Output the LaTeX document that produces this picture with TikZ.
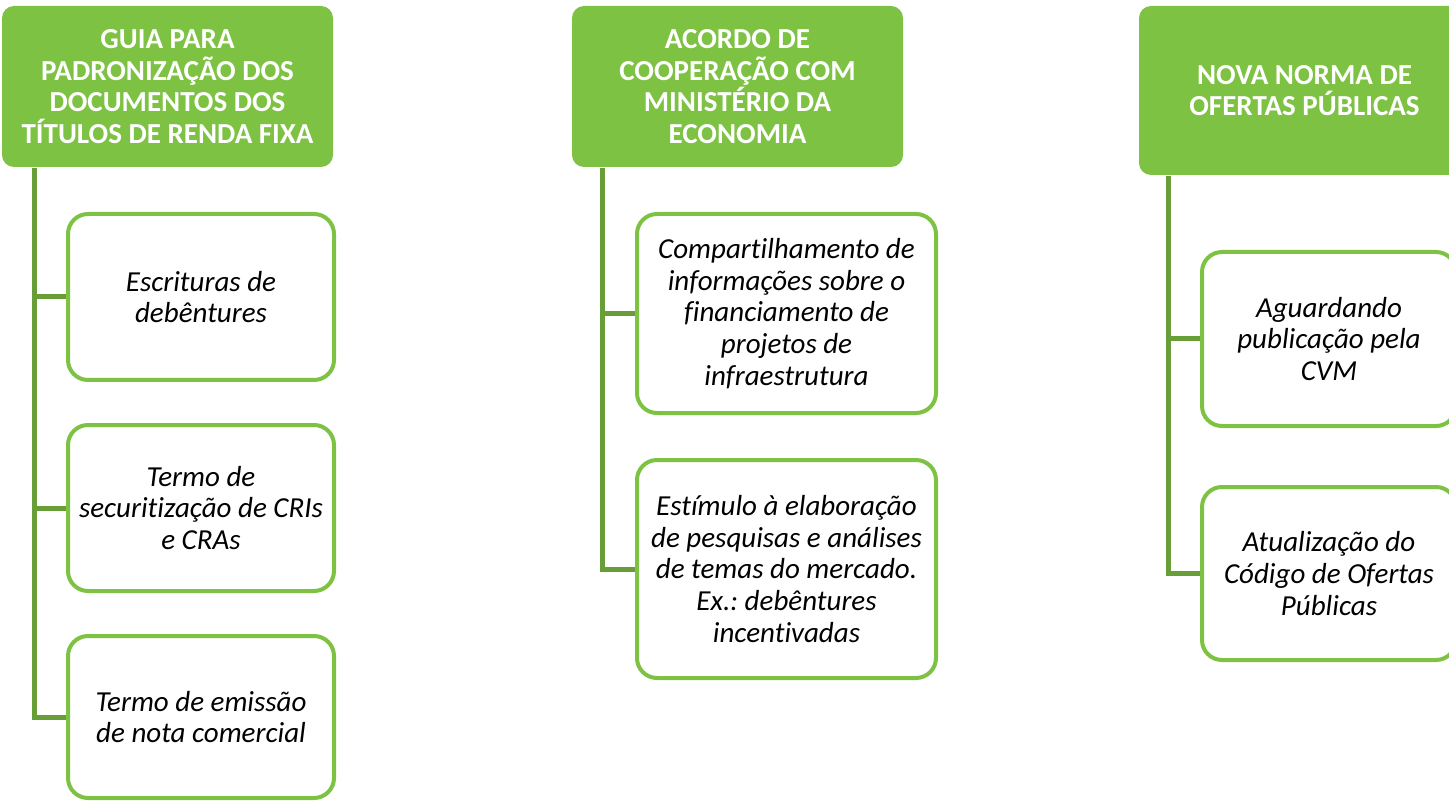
\documentclass[tikz,border=0pt]{standalone}
\usepackage{fontspec}
\setmainfont{Carlito}[Ligatures=NoCommon]
\definecolor{hdrgreen}{RGB}{125,194,66}
\definecolor{lnkgreen}{RGB}{104,158,56}
\frenchspacing
\begin{document}
\begin{tikzpicture}[x=1pt,y=-1pt,
  header/.style={fill=hdrgreen,rounded corners=12pt,inner sep=0pt,
    text=white,align=center,font=\fontsize{29}{31.6}\selectfont\bfseries},
  child/.style={draw=hdrgreen,line width=4pt,fill=white,rounded corners=20pt,
    inner sep=0pt,align=center,font=\fontsize{29}{31.6}\selectfont\itshape},
  link/.style={draw=lnkgreen,line width=5pt}]
\useasboundingbox (0,0) rectangle (1449,802);
\clip (0,0) rectangle (1449,802);
% headers
\node[header,minimum width=331pt,minimum height=161pt] (h1) at (167.5,86.5)
  {GUIA PARA\\PADRONIZAÇÃO DOS\\DOCUMENTOS DOS\\TÍTULOS DE RENDA FIXA};
\node[header,minimum width=331pt,minimum height=161pt] (h2) at (737.5,86.5)
  {ACORDO DE\\COOPERAÇÃO COM\\MINISTÉRIO DA\\ECONOMIA};
\node[header,minimum width=331pt,minimum height=169pt] (h3) at (1304.5,90.5)
  {NOVA NORMA DE\\OFERTAS PÚBLICAS};
% children column 1
\node[child,minimum width=266pt,minimum height=166pt] (c11) at (201,297)
  {Escrituras de\\debêntures};
\node[child,minimum width=266pt,minimum height=166pt] (c12) at (201,508)
  {Termo de\\securitização de CRIs\\e CRAs};
\node[child,minimum width=266pt,minimum height=162pt] (c13) at (201,717)
  {Termo de emissão\\de nota comercial};
% children column 2
\node[child,minimum width=299pt,minimum height=199pt] (c21) at (786.5,313.5)
  {Compartilhamento de\\informações sobre o\\financiamento de\\projetos de\\infraestrutura};
\node[child,minimum width=299pt,minimum height=218pt] (c22) at (786.5,569)
  {Estímulo à elaboração\\de pesquisas e análises\\de temas do mercado.\\Ex.: debêntures\\incentivadas};
% children column 3
\node[child,minimum width=254pt,minimum height=174pt] (c31) at (1329,339)
  {Aguardando\\publicação pela\\CVM};
\node[child,minimum width=254pt,minimum height=173pt] (c32) at (1329,573.5)
  {Atualização do\\Código de Ofertas\\Públicas};
% connectors
\coordinate (t1) at (34,168);
\coordinate (t2) at (602.5,168);
\coordinate (t3) at (1168,176);
\draw[link] (t1) |- (c13.west);
\draw[link] (t1 |- c11.west) -- (c11.west);
\draw[link] (t1 |- c12.west) -- (c12.west);
\draw[link] (t2) |- (c22.west);
\draw[link] (t2 |- c21.west) -- (c21.west);
\draw[link] (t3) |- (c32.west);
\draw[link] (t3 |- c31.west) -- (c31.west);
\end{tikzpicture}
\end{document}
